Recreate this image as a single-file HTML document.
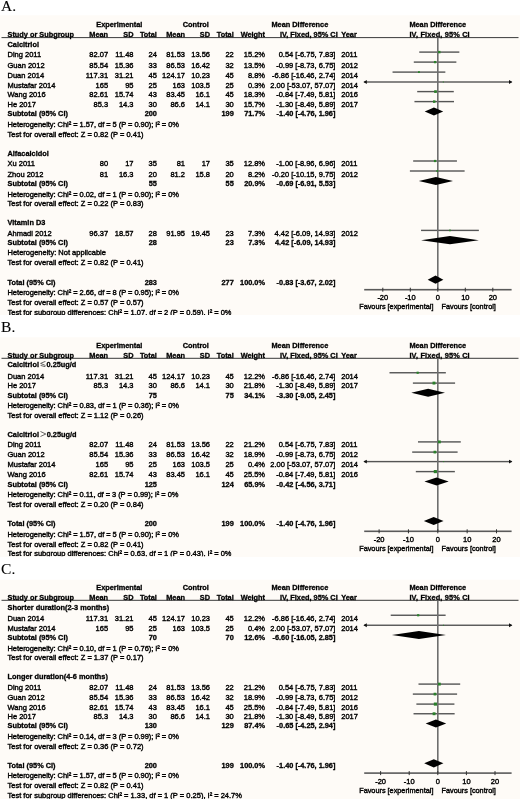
<!DOCTYPE html>
<html><head><meta charset="utf-8"><title>Forest plots</title>
<style>
html,body{margin:0;padding:0;background:#fff;}
body{width:520px;height:799px;position:relative;overflow:hidden;font-family:"Liberation Sans",sans-serif;color:#000;}
.t{position:absolute;white-space:nowrap;-webkit-text-stroke:0.38px #000;}
.b{font-weight:700;-webkit-text-stroke:0.3px #000;}
svg.g{position:absolute;left:0;top:0;}
.clipA{position:absolute;left:0;width:520px;overflow:hidden;}
#w{position:absolute;left:0;top:0;width:520px;height:799px;filter:blur(0.3px);}
</style></head><body><div id="w">
<svg class="g" width="520" height="799" viewBox="0 0 520 799"><rect x="0" y="15.3" width="520" height="299.7" fill="#fefbf7"/><rect x="0" y="337.3" width="520" height="219.7" fill="#fefbf7"/><rect x="0" y="579.7" width="520" height="219.3" fill="#fefbf7"/></svg>
<svg class="g" width="520" height="799" viewBox="0 0 520 799" shape-rendering="geometricPrecision"><rect x="1.5" y="37.1" width="517" height="1" fill="#3a3a3a"/><rect x="419.24" y="51.4" width="40.09" height="1.4" fill="#555555"/><rect x="413.79" y="61.4" width="42.57" height="1.4" fill="#555555"/><rect x="392.54" y="71.4" width="52.8" height="1.4" fill="#555555"/><rect x="364.2" y="81.3" width="147.4" height="1.4" fill="#555555"/><path d="M363.4 82 L366.8 80.1 L366.8 83.9 Z" fill="#111"/><path d="M512.4 82 L509 80.1 L509 83.9 Z" fill="#111"/><rect x="417.2" y="90.9" width="36.58" height="1.4" fill="#555555"/><rect x="414.45" y="100.9" width="39.55" height="1.4" fill="#555555"/><rect x="413.16" y="160.3" width="43.78" height="1.4" fill="#555555"/><rect x="409.89" y="170.3" width="54.73" height="1.4" fill="#555555"/><rect x="421.05" y="229.7" width="57.81" height="1.4" fill="#555555"/><rect x="437" y="37.6" width="1.6" height="252.1" fill="#6e6e6e"/><rect x="364.2" y="288.9" width="147.4" height="1.6" fill="#5a5a5a"/><rect x="382.3" y="287.7" width="1" height="4" fill="#333"/><rect x="409.8" y="287.7" width="1" height="4" fill="#333"/><rect x="437.3" y="287.7" width="1" height="4" fill="#333"/><rect x="464.8" y="287.7" width="1" height="4" fill="#333"/><rect x="492.3" y="287.7" width="1" height="4" fill="#333"/><rect x="1.5" y="357.8" width="517" height="1" fill="#3a3a3a"/><rect x="389.49" y="372.05" width="56.35" height="1.4" fill="#555555"/><rect x="412.88" y="382.4" width="42.21" height="1.4" fill="#555555"/><rect x="417.99" y="441.2" width="42.79" height="1.4" fill="#555555"/><rect x="412.18" y="451.4" width="45.43" height="1.4" fill="#555555"/><rect x="364.2" y="460.9" width="147.4" height="1.4" fill="#555555"/><path d="M363.4 461.6 L366.8 459.7 L366.8 463.5 Z" fill="#111"/><path d="M512.4 461.6 L509 459.7 L509 463.5 Z" fill="#111"/><rect x="415.82" y="470.9" width="39.04" height="1.4" fill="#555555"/><rect x="437" y="358.3" width="1.6" height="173" fill="#6e6e6e"/><rect x="364.2" y="530.5" width="147.4" height="1.6" fill="#5a5a5a"/><rect x="378.6" y="529.3" width="1" height="4" fill="#333"/><rect x="407.95" y="529.3" width="1" height="4" fill="#333"/><rect x="437.3" y="529.3" width="1" height="4" fill="#333"/><rect x="466.65" y="529.3" width="1" height="4" fill="#333"/><rect x="496" y="529.3" width="1" height="4" fill="#333"/><rect x="1.5" y="599.8" width="517" height="1" fill="#3a3a3a"/><rect x="390.72" y="614.55" width="54.91" height="1.4" fill="#555555"/><rect x="364.2" y="624.55" width="147.4" height="1.4" fill="#555555"/><path d="M363.4 625.25 L366.8 623.35 L366.8 627.15 Z" fill="#111"/><path d="M512.4 625.25 L509 623.35 L509 627.15 Z" fill="#111"/><rect x="418.5" y="683.4" width="41.7" height="1.4" fill="#555555"/><rect x="412.83" y="693.4" width="44.27" height="1.4" fill="#555555"/><rect x="416.38" y="703.4" width="38.04" height="1.4" fill="#555555"/><rect x="413.52" y="713.05" width="41.13" height="1.4" fill="#555555"/><rect x="437" y="600.3" width="1.6" height="172.8" fill="#6e6e6e"/><rect x="364.2" y="772.3" width="147.4" height="1.6" fill="#5a5a5a"/><rect x="380.1" y="771.1" width="1" height="4" fill="#333"/><rect x="408.7" y="771.1" width="1" height="4" fill="#333"/><rect x="437.3" y="771.1" width="1" height="4" fill="#333"/><rect x="465.9" y="771.1" width="1" height="4" fill="#333"/><rect x="494.5" y="771.1" width="1" height="4" fill="#333"/><path d="M424.71 111.5 L433.95 107.4 L443.19 111.5 L433.95 115.6 Z" fill="#000"/><path d="M418.8 181 L435.9 176.9 L453.01 181 L435.9 185.1 Z" fill="#000"/><path d="M421.05 240.2 L449.95 236.1 L478.86 240.2 L449.95 244.3 Z" fill="#000"/><path d="M427.71 279.7 L435.52 275.6 L443.36 279.7 L435.52 283.8 Z" fill="#000"/><rect x="438.08" y="50.89" width="2.42" height="2.42" fill="#2a802a"/><rect x="433.94" y="60.96" width="2.28" height="2.28" fill="#2a802a"/><rect x="418.02" y="71.18" width="1.84" height="1.84" fill="#2a802a"/><rect x="442.8" y="81.5" width="1" height="1" fill="#2a802a"/><rect x="434.16" y="90.27" width="2.65" height="2.65" fill="#2a802a"/><rect x="433" y="100.37" width="2.46" height="2.46" fill="#2a802a"/><rect x="433.94" y="159.89" width="2.22" height="2.22" fill="#2a802a"/><rect x="436.36" y="170.11" width="1.78" height="1.78" fill="#2a802a"/><rect x="449.12" y="229.56" width="1.68" height="1.68" fill="#2a802a"/><path d="M411.24 392.75 L428.11 388.65 L444.99 392.75 L428.11 396.85 Z" fill="#000"/><path d="M424.42 481.5 L436.57 477.4 L448.69 481.5 L436.57 485.6 Z" fill="#000"/><path d="M423.83 521 L433.69 516.9 L443.55 521 L433.69 525.1 Z" fill="#000"/><rect x="416.58" y="371.67" width="2.17" height="2.17" fill="#2a802a"/><rect x="432.54" y="381.65" width="2.89" height="2.89" fill="#2a802a"/><rect x="437.96" y="440.47" width="2.85" height="2.85" fill="#2a802a"/><rect x="433.55" y="450.75" width="2.7" height="2.7" fill="#2a802a"/><rect x="443.17" y="461.1" width="1" height="1" fill="#2a802a"/><rect x="433.77" y="470.03" width="3.13" height="3.13" fill="#2a802a"/><path d="M391.9 635 L418.92 630.9 L445.95 635 L418.92 639.1 Z" fill="#000"/><path d="M425.65 723.5 L435.94 719.4 L446.21 723.5 L435.94 727.6 Z" fill="#000"/><path d="M424.19 763.3 L433.8 759.2 L443.41 763.3 L433.8 767.4 Z" fill="#000"/><rect x="417.1" y="614.17" width="2.17" height="2.17" fill="#2a802a"/><rect x="443.02" y="624.75" width="1" height="1" fill="#2a802a"/><rect x="437.92" y="682.67" width="2.85" height="2.85" fill="#2a802a"/><rect x="433.62" y="692.75" width="2.7" height="2.7" fill="#2a802a"/><rect x="433.83" y="702.53" width="3.13" height="3.13" fill="#2a802a"/><rect x="432.63" y="712.3" width="2.89" height="2.89" fill="#2a802a"/></svg>
<div class="t" style="left:1.1px;top:-2.02px;font-family:'Liberation Serif',serif;font-size:15.5px;line-height:15.5px;-webkit-text-stroke:0.1px #000">A.</div><div class="t b" style="top:21.28px;font-size:7.35px;line-height:7.35px;left:96.25px;">Experimental</div><div class="t b" style="top:21.28px;font-size:7.35px;line-height:7.35px;left:182.75px;">Control</div><div class="t b" style="top:21.28px;font-size:7.35px;line-height:7.35px;left:271.5px;">Mean Difference</div><div class="t b" style="top:21.28px;font-size:7.35px;line-height:7.35px;left:409.4px;">Mean Difference</div><div class="t b" style="top:31.28px;font-size:7.35px;line-height:7.35px;left:7.5px;">Study or Subgroup</div><div class="t b" style="top:31.28px;font-size:7.35px;line-height:7.35px;right:411.9px;">Mean</div><div class="t b" style="top:31.28px;font-size:7.35px;line-height:7.35px;right:386.5px;">SD</div><div class="t b" style="top:31.28px;font-size:7.35px;line-height:7.35px;right:363.1px;">Total</div><div class="t b" style="top:31.28px;font-size:7.35px;line-height:7.35px;right:335px;">Mean</div><div class="t b" style="top:31.28px;font-size:7.35px;line-height:7.35px;right:310px;">SD</div><div class="t b" style="top:31.28px;font-size:7.35px;line-height:7.35px;right:286.25px;">Total</div><div class="t b" style="top:31.28px;font-size:7.35px;line-height:7.35px;right:255px;">Weight</div><div class="t b" style="top:31.28px;font-size:7.35px;line-height:7.35px;left:280px;">IV, Fixed, 95% CI</div><div class="t b" style="top:31.28px;font-size:7.35px;line-height:7.35px;left:341.25px;">Year</div><div class="t b" style="top:31.28px;font-size:7.35px;line-height:7.35px;left:409.4px;letter-spacing:0.16px;">IV, Fixed, 95% CI</div><div class="t b" style="top:40.58px;font-size:7.35px;line-height:7.35px;left:7.5px;">Calcitriol</div><div class="t" style="top:51.45px;font-size:7.5px;line-height:7.5px;left:7.5px;">Ding 2011</div><div class="t" style="top:51.45px;font-size:7.5px;line-height:7.5px;right:411.9px;">82.07</div><div class="t" style="top:51.45px;font-size:7.5px;line-height:7.5px;right:386.5px;">11.48</div><div class="t" style="top:51.45px;font-size:7.5px;line-height:7.5px;right:363.1px;">24</div><div class="t" style="top:51.45px;font-size:7.5px;line-height:7.5px;right:335px;">81.53</div><div class="t" style="top:51.45px;font-size:7.5px;line-height:7.5px;right:310px;">13.56</div><div class="t" style="top:51.45px;font-size:7.5px;line-height:7.5px;right:286.25px;">22</div><div class="t" style="top:51.45px;font-size:7.5px;line-height:7.5px;right:255px;">15.2%</div><div class="t" style="top:51.45px;font-size:7.5px;line-height:7.5px;right:184.6px;">0.54 [-6.75, 7.83]</div><div class="t" style="top:51.45px;font-size:7.5px;line-height:7.5px;left:341.25px;">2011</div><div class="t" style="top:61.75px;font-size:7.5px;line-height:7.5px;left:7.5px;">Guan 2012</div><div class="t" style="top:61.75px;font-size:7.5px;line-height:7.5px;right:411.9px;">85.54</div><div class="t" style="top:61.75px;font-size:7.5px;line-height:7.5px;right:386.5px;">15.36</div><div class="t" style="top:61.75px;font-size:7.5px;line-height:7.5px;right:363.1px;">33</div><div class="t" style="top:61.75px;font-size:7.5px;line-height:7.5px;right:335px;">86.53</div><div class="t" style="top:61.75px;font-size:7.5px;line-height:7.5px;right:310px;">16.42</div><div class="t" style="top:61.75px;font-size:7.5px;line-height:7.5px;right:286.25px;">32</div><div class="t" style="top:61.75px;font-size:7.5px;line-height:7.5px;right:255px;">13.5%</div><div class="t" style="top:61.75px;font-size:7.5px;line-height:7.5px;right:184.6px;">-0.99 [-8.73, 6.75]</div><div class="t" style="top:61.75px;font-size:7.5px;line-height:7.5px;left:341.25px;">2012</div><div class="t" style="top:71.75px;font-size:7.5px;line-height:7.5px;left:7.5px;">Duan 2014</div><div class="t" style="top:71.75px;font-size:7.5px;line-height:7.5px;right:411.9px;">117.31</div><div class="t" style="top:71.75px;font-size:7.5px;line-height:7.5px;right:386.5px;">31.21</div><div class="t" style="top:71.75px;font-size:7.5px;line-height:7.5px;right:363.1px;">45</div><div class="t" style="top:71.75px;font-size:7.5px;line-height:7.5px;right:335px;">124.17</div><div class="t" style="top:71.75px;font-size:7.5px;line-height:7.5px;right:310px;">10.23</div><div class="t" style="top:71.75px;font-size:7.5px;line-height:7.5px;right:286.25px;">45</div><div class="t" style="top:71.75px;font-size:7.5px;line-height:7.5px;right:255px;">8.8%</div><div class="t" style="top:71.75px;font-size:7.5px;line-height:7.5px;right:184.6px;">-6.86 [-16.46, 2.74]</div><div class="t" style="top:71.75px;font-size:7.5px;line-height:7.5px;left:341.25px;">2014</div><div class="t" style="top:81.75px;font-size:7.5px;line-height:7.5px;left:7.5px;">Mustafar 2014</div><div class="t" style="top:81.75px;font-size:7.5px;line-height:7.5px;right:411.9px;">165</div><div class="t" style="top:81.75px;font-size:7.5px;line-height:7.5px;right:386.5px;">95</div><div class="t" style="top:81.75px;font-size:7.5px;line-height:7.5px;right:363.1px;">25</div><div class="t" style="top:81.75px;font-size:7.5px;line-height:7.5px;right:335px;">163</div><div class="t" style="top:81.75px;font-size:7.5px;line-height:7.5px;right:310px;">103.5</div><div class="t" style="top:81.75px;font-size:7.5px;line-height:7.5px;right:286.25px;">25</div><div class="t" style="top:81.75px;font-size:7.5px;line-height:7.5px;right:255px;">0.3%</div><div class="t" style="top:81.75px;font-size:7.5px;line-height:7.5px;right:184.6px;">2.00 [-53.07, 57.07]</div><div class="t" style="top:81.75px;font-size:7.5px;line-height:7.5px;left:341.25px;">2014</div><div class="t" style="top:91.45px;font-size:7.5px;line-height:7.5px;left:7.5px;">Wang 2016</div><div class="t" style="top:91.45px;font-size:7.5px;line-height:7.5px;right:411.9px;">82.61</div><div class="t" style="top:91.45px;font-size:7.5px;line-height:7.5px;right:386.5px;">15.74</div><div class="t" style="top:91.45px;font-size:7.5px;line-height:7.5px;right:363.1px;">43</div><div class="t" style="top:91.45px;font-size:7.5px;line-height:7.5px;right:335px;">83.45</div><div class="t" style="top:91.45px;font-size:7.5px;line-height:7.5px;right:310px;">16.1</div><div class="t" style="top:91.45px;font-size:7.5px;line-height:7.5px;right:286.25px;">45</div><div class="t" style="top:91.45px;font-size:7.5px;line-height:7.5px;right:255px;">18.3%</div><div class="t" style="top:91.45px;font-size:7.5px;line-height:7.5px;right:184.6px;">-0.84 [-7.49, 5.81]</div><div class="t" style="top:91.45px;font-size:7.5px;line-height:7.5px;left:341.25px;">2016</div><div class="t" style="top:101.15px;font-size:7.5px;line-height:7.5px;left:7.5px;">He 2017</div><div class="t" style="top:101.15px;font-size:7.5px;line-height:7.5px;right:411.9px;">85.3</div><div class="t" style="top:101.15px;font-size:7.5px;line-height:7.5px;right:386.5px;">14.3</div><div class="t" style="top:101.15px;font-size:7.5px;line-height:7.5px;right:363.1px;">30</div><div class="t" style="top:101.15px;font-size:7.5px;line-height:7.5px;right:335px;">86.6</div><div class="t" style="top:101.15px;font-size:7.5px;line-height:7.5px;right:310px;">14.1</div><div class="t" style="top:101.15px;font-size:7.5px;line-height:7.5px;right:286.25px;">30</div><div class="t" style="top:101.15px;font-size:7.5px;line-height:7.5px;right:255px;">15.7%</div><div class="t" style="top:101.15px;font-size:7.5px;line-height:7.5px;right:184.6px;">-1.30 [-8.49, 5.89]</div><div class="t" style="top:101.15px;font-size:7.5px;line-height:7.5px;left:341.25px;">2017</div><div class="t b" style="top:110.38px;font-size:7.35px;line-height:7.35px;left:7.5px;">Subtotal (95% CI)</div><div class="t b" style="top:110.38px;font-size:7.35px;line-height:7.35px;right:363.1px;">200</div><div class="t b" style="top:110.38px;font-size:7.35px;line-height:7.35px;right:286.25px;">199</div><div class="t b" style="top:110.38px;font-size:7.35px;line-height:7.35px;right:255px;">71.7%</div><div class="t b" style="top:110.38px;font-size:7.35px;line-height:7.35px;right:184.6px;">-1.40 [-4.76, 1.96]</div><div class="t" style="top:120.5px;font-size:7.5px;line-height:7.5px;left:7.5px;letter-spacing:-0.05px;">Heterogeneity: Chi² = 1.57, df = 5 (P = 0.90); I² = 0%</div><div class="t" style="top:130.5px;font-size:7.5px;line-height:7.5px;left:7.5px;">Test for overall effect: Z = 0.82 (P = 0.41)</div><div class="t b" style="top:149.63px;font-size:7.35px;line-height:7.35px;left:7.5px;">Alfacalcidol</div><div class="t" style="top:160.25px;font-size:7.5px;line-height:7.5px;left:7.5px;">Xu 2011</div><div class="t" style="top:160.25px;font-size:7.5px;line-height:7.5px;right:411.9px;">80</div><div class="t" style="top:160.25px;font-size:7.5px;line-height:7.5px;right:386.5px;">17</div><div class="t" style="top:160.25px;font-size:7.5px;line-height:7.5px;right:363.1px;">35</div><div class="t" style="top:160.25px;font-size:7.5px;line-height:7.5px;right:335px;">81</div><div class="t" style="top:160.25px;font-size:7.5px;line-height:7.5px;right:310px;">17</div><div class="t" style="top:160.25px;font-size:7.5px;line-height:7.5px;right:286.25px;">35</div><div class="t" style="top:160.25px;font-size:7.5px;line-height:7.5px;right:255px;">12.8%</div><div class="t" style="top:160.25px;font-size:7.5px;line-height:7.5px;right:184.6px;">-1.00 [-8.96, 6.96]</div><div class="t" style="top:160.25px;font-size:7.5px;line-height:7.5px;left:341.25px;">2011</div><div class="t" style="top:170.5px;font-size:7.5px;line-height:7.5px;left:7.5px;">Zhou 2012</div><div class="t" style="top:170.5px;font-size:7.5px;line-height:7.5px;right:411.9px;">81</div><div class="t" style="top:170.5px;font-size:7.5px;line-height:7.5px;right:386.5px;">16.3</div><div class="t" style="top:170.5px;font-size:7.5px;line-height:7.5px;right:363.1px;">20</div><div class="t" style="top:170.5px;font-size:7.5px;line-height:7.5px;right:335px;">81.2</div><div class="t" style="top:170.5px;font-size:7.5px;line-height:7.5px;right:310px;">15.8</div><div class="t" style="top:170.5px;font-size:7.5px;line-height:7.5px;right:286.25px;">20</div><div class="t" style="top:170.5px;font-size:7.5px;line-height:7.5px;right:255px;">8.2%</div><div class="t" style="top:170.5px;font-size:7.5px;line-height:7.5px;right:184.6px;">-0.20 [-10.15, 9.75]</div><div class="t" style="top:170.5px;font-size:7.5px;line-height:7.5px;left:341.25px;">2012</div><div class="t b" style="top:180.38px;font-size:7.35px;line-height:7.35px;left:7.5px;">Subtotal (95% CI)</div><div class="t b" style="top:180.38px;font-size:7.35px;line-height:7.35px;right:363.1px;">55</div><div class="t b" style="top:180.38px;font-size:7.35px;line-height:7.35px;right:286.25px;">55</div><div class="t b" style="top:180.38px;font-size:7.35px;line-height:7.35px;right:255px;">20.9%</div><div class="t b" style="top:180.38px;font-size:7.35px;line-height:7.35px;right:184.6px;">-0.69 [-6.91, 5.53]</div><div class="t" style="top:190.5px;font-size:7.5px;line-height:7.5px;left:7.5px;letter-spacing:-0.05px;">Heterogeneity: Chi² = 0.02, df = 1 (P = 0.90); I² = 0%</div><div class="t" style="top:199.85px;font-size:7.5px;line-height:7.5px;left:7.5px;">Test for overall effect: Z = 0.22 (P = 0.83)</div><div class="t b" style="top:218.78px;font-size:7.35px;line-height:7.35px;left:7.5px;">Vitamin D3</div><div class="t" style="top:229.85px;font-size:7.5px;line-height:7.5px;left:7.5px;">Ahmadi 2012</div><div class="t" style="top:229.85px;font-size:7.5px;line-height:7.5px;right:411.9px;">96.37</div><div class="t" style="top:229.85px;font-size:7.5px;line-height:7.5px;right:386.5px;">18.57</div><div class="t" style="top:229.85px;font-size:7.5px;line-height:7.5px;right:363.1px;">28</div><div class="t" style="top:229.85px;font-size:7.5px;line-height:7.5px;right:335px;">91.95</div><div class="t" style="top:229.85px;font-size:7.5px;line-height:7.5px;right:310px;">19.45</div><div class="t" style="top:229.85px;font-size:7.5px;line-height:7.5px;right:286.25px;">23</div><div class="t" style="top:229.85px;font-size:7.5px;line-height:7.5px;right:255px;">7.3%</div><div class="t" style="top:229.85px;font-size:7.5px;line-height:7.5px;right:184.6px;">4.42 [-6.09, 14.93]</div><div class="t" style="top:229.85px;font-size:7.5px;line-height:7.5px;left:341.25px;">2012</div><div class="t b" style="top:239.13px;font-size:7.35px;line-height:7.35px;left:7.5px;">Subtotal (95% CI)</div><div class="t b" style="top:239.13px;font-size:7.35px;line-height:7.35px;right:363.1px;">28</div><div class="t b" style="top:239.13px;font-size:7.35px;line-height:7.35px;right:286.25px;">23</div><div class="t b" style="top:239.13px;font-size:7.35px;line-height:7.35px;right:255px;">7.3%</div><div class="t b" style="top:239.13px;font-size:7.35px;line-height:7.35px;right:184.6px;">4.42 [-6.09, 14.93]</div><div class="t" style="top:249.25px;font-size:7.5px;line-height:7.5px;left:7.5px;">Heterogeneity: Not applicable</div><div class="t" style="top:259.25px;font-size:7.5px;line-height:7.5px;left:7.5px;">Test for overall effect: Z = 0.82 (P = 0.41)</div><div class="t b" style="top:278.78px;font-size:7.35px;line-height:7.35px;left:7.5px;">Total (95% CI)</div><div class="t b" style="top:278.78px;font-size:7.35px;line-height:7.35px;right:363.1px;">283</div><div class="t b" style="top:278.78px;font-size:7.35px;line-height:7.35px;right:286.25px;">277</div><div class="t b" style="top:278.78px;font-size:7.35px;line-height:7.35px;right:255px;">100.0%</div><div class="t b" style="top:278.78px;font-size:7.35px;line-height:7.35px;right:184.6px;">-0.83 [-3.67, 2.02]</div><div class="t" style="top:289.25px;font-size:7.5px;line-height:7.5px;left:7.5px;letter-spacing:-0.05px;">Heterogeneity: Chi² = 2.66, df = 8 (P = 0.95); I² = 0%</div><div class="t" style="top:299px;font-size:7.5px;line-height:7.5px;left:7.5px;">Test for overall effect: Z = 0.57 (P = 0.57)</div><div class="t" style="top:308.65px;font-size:7.5px;line-height:7.5px;height:7.5px;clip-path:inset(0 0 1.15px 0);left:7.5px;">Test for subgroup differences: Chi² = 1.07, df = 2 (P = 0.59), I² = 0%</div><div class="t" style="top:294.15px;font-size:7.5px;line-height:7.5px;left:332.8px;width:100px;text-align:center;">-20</div><div class="t" style="top:294.15px;font-size:7.5px;line-height:7.5px;left:360.3px;width:100px;text-align:center;">-10</div><div class="t" style="top:294.15px;font-size:7.5px;line-height:7.5px;left:387.8px;width:100px;text-align:center;">0</div><div class="t" style="top:294.15px;font-size:7.5px;line-height:7.5px;left:415.3px;width:100px;text-align:center;">10</div><div class="t" style="top:294.15px;font-size:7.5px;line-height:7.5px;left:442.8px;width:100px;text-align:center;">20</div><div class="t" style="top:303.17px;font-size:7.3px;line-height:7.3px;right:86.6px;">Favours [experimental]</div><div class="t" style="top:303.17px;font-size:7.3px;line-height:7.3px;left:441.5px;">Favours [control]</div><div class="t" style="left:1.1px;top:319.12px;font-family:'Liberation Serif',serif;font-size:15.5px;line-height:15.5px;-webkit-text-stroke:0.1px #000">B.</div><div class="t b" style="top:342.28px;font-size:7.35px;line-height:7.35px;left:96.25px;">Experimental</div><div class="t b" style="top:342.28px;font-size:7.35px;line-height:7.35px;left:182.75px;">Control</div><div class="t b" style="top:342.28px;font-size:7.35px;line-height:7.35px;left:271.5px;">Mean Difference</div><div class="t b" style="top:342.28px;font-size:7.35px;line-height:7.35px;left:409.4px;">Mean Difference</div><div class="t b" style="top:352.28px;font-size:7.35px;line-height:7.35px;left:7.5px;">Study or Subgroup</div><div class="t b" style="top:352.28px;font-size:7.35px;line-height:7.35px;right:411.9px;">Mean</div><div class="t b" style="top:352.28px;font-size:7.35px;line-height:7.35px;right:386.5px;">SD</div><div class="t b" style="top:352.28px;font-size:7.35px;line-height:7.35px;right:363.1px;">Total</div><div class="t b" style="top:352.28px;font-size:7.35px;line-height:7.35px;right:335px;">Mean</div><div class="t b" style="top:352.28px;font-size:7.35px;line-height:7.35px;right:310px;">SD</div><div class="t b" style="top:352.28px;font-size:7.35px;line-height:7.35px;right:286.25px;">Total</div><div class="t b" style="top:352.28px;font-size:7.35px;line-height:7.35px;right:255px;">Weight</div><div class="t b" style="top:352.28px;font-size:7.35px;line-height:7.35px;left:280px;">IV, Fixed, 95% CI</div><div class="t b" style="top:352.28px;font-size:7.35px;line-height:7.35px;left:341.25px;">Year</div><div class="t b" style="top:352.28px;font-size:7.35px;line-height:7.35px;left:409.4px;letter-spacing:0.16px;">IV, Fixed, 95% CI</div><div class="t b" style="top:361.28px;font-size:7.35px;line-height:7.35px;left:7.5px;">Calcitriol<svg width="6" height="6" viewBox="0 0 6 6" style="display:inline-block;vertical-align:0;margin:0 0.6px 0 1px"><path d="M5.5 0.3 L0.6 2.4 L5.5 4.5 M0.6 4.4 L5.5 5.8" stroke="#333" stroke-width="0.75" fill="none"/></svg>0.25ug/d</div><div class="t" style="top:372.75px;font-size:7.5px;line-height:7.5px;left:7.5px;">Duan 2014</div><div class="t" style="top:372.75px;font-size:7.5px;line-height:7.5px;right:411.9px;">117.31</div><div class="t" style="top:372.75px;font-size:7.5px;line-height:7.5px;right:386.5px;">31.21</div><div class="t" style="top:372.75px;font-size:7.5px;line-height:7.5px;right:363.1px;">45</div><div class="t" style="top:372.75px;font-size:7.5px;line-height:7.5px;right:335px;">124.17</div><div class="t" style="top:372.75px;font-size:7.5px;line-height:7.5px;right:310px;">10.23</div><div class="t" style="top:372.75px;font-size:7.5px;line-height:7.5px;right:286.25px;">45</div><div class="t" style="top:372.75px;font-size:7.5px;line-height:7.5px;right:255px;">12.2%</div><div class="t" style="top:372.75px;font-size:7.5px;line-height:7.5px;right:184.6px;">-6.86 [-16.46, 2.74]</div><div class="t" style="top:372.75px;font-size:7.5px;line-height:7.5px;left:341.25px;">2014</div><div class="t" style="top:382.35px;font-size:7.5px;line-height:7.5px;left:7.5px;">He 2017</div><div class="t" style="top:382.35px;font-size:7.5px;line-height:7.5px;right:411.9px;">85.3</div><div class="t" style="top:382.35px;font-size:7.5px;line-height:7.5px;right:386.5px;">14.3</div><div class="t" style="top:382.35px;font-size:7.5px;line-height:7.5px;right:363.1px;">30</div><div class="t" style="top:382.35px;font-size:7.5px;line-height:7.5px;right:335px;">86.6</div><div class="t" style="top:382.35px;font-size:7.5px;line-height:7.5px;right:310px;">14.1</div><div class="t" style="top:382.35px;font-size:7.5px;line-height:7.5px;right:286.25px;">30</div><div class="t" style="top:382.35px;font-size:7.5px;line-height:7.5px;right:255px;">21.8%</div><div class="t" style="top:382.35px;font-size:7.5px;line-height:7.5px;right:184.6px;">-1.30 [-8.49, 5.89]</div><div class="t" style="top:382.35px;font-size:7.5px;line-height:7.5px;left:341.25px;">2017</div><div class="t b" style="top:391.63px;font-size:7.35px;line-height:7.35px;left:7.5px;">Subtotal (95% CI)</div><div class="t b" style="top:391.63px;font-size:7.35px;line-height:7.35px;right:363.1px;">75</div><div class="t b" style="top:391.63px;font-size:7.35px;line-height:7.35px;right:286.25px;">75</div><div class="t b" style="top:391.63px;font-size:7.35px;line-height:7.35px;right:255px;">34.1%</div><div class="t b" style="top:391.63px;font-size:7.35px;line-height:7.35px;right:184.6px;">-3.30 [-9.05, 2.45]</div><div class="t" style="top:401.75px;font-size:7.5px;line-height:7.5px;left:7.5px;letter-spacing:-0.05px;">Heterogeneity: Chi² = 0.83, df = 1 (P = 0.36); I² = 0%</div><div class="t" style="top:411.75px;font-size:7.5px;line-height:7.5px;left:7.5px;">Test for overall effect: Z = 1.12 (P = 0.26)</div><div class="t b" style="top:430.63px;font-size:7.35px;line-height:7.35px;left:7.5px;">Calcitriol<svg width="6.4" height="6" viewBox="0 0 6.4 6" style="display:inline-block;vertical-align:0;margin:0 0.4px 0 1px"><path d="M0.5 0.5 L5.8 3 L0.5 5.5" stroke="#333" stroke-width="0.75" fill="none"/></svg>0.25ug/d</div><div class="t" style="top:441.15px;font-size:7.5px;line-height:7.5px;left:7.5px;">Ding 2011</div><div class="t" style="top:441.15px;font-size:7.5px;line-height:7.5px;right:411.9px;">82.07</div><div class="t" style="top:441.15px;font-size:7.5px;line-height:7.5px;right:386.5px;">11.48</div><div class="t" style="top:441.15px;font-size:7.5px;line-height:7.5px;right:363.1px;">24</div><div class="t" style="top:441.15px;font-size:7.5px;line-height:7.5px;right:335px;">81.53</div><div class="t" style="top:441.15px;font-size:7.5px;line-height:7.5px;right:310px;">13.56</div><div class="t" style="top:441.15px;font-size:7.5px;line-height:7.5px;right:286.25px;">22</div><div class="t" style="top:441.15px;font-size:7.5px;line-height:7.5px;right:255px;">21.2%</div><div class="t" style="top:441.15px;font-size:7.5px;line-height:7.5px;right:184.6px;">0.54 [-6.75, 7.83]</div><div class="t" style="top:441.15px;font-size:7.5px;line-height:7.5px;left:341.25px;">2011</div><div class="t" style="top:451.35px;font-size:7.5px;line-height:7.5px;left:7.5px;">Guan 2012</div><div class="t" style="top:451.35px;font-size:7.5px;line-height:7.5px;right:411.9px;">85.54</div><div class="t" style="top:451.35px;font-size:7.5px;line-height:7.5px;right:386.5px;">15.36</div><div class="t" style="top:451.35px;font-size:7.5px;line-height:7.5px;right:363.1px;">33</div><div class="t" style="top:451.35px;font-size:7.5px;line-height:7.5px;right:335px;">86.53</div><div class="t" style="top:451.35px;font-size:7.5px;line-height:7.5px;right:310px;">16.42</div><div class="t" style="top:451.35px;font-size:7.5px;line-height:7.5px;right:286.25px;">32</div><div class="t" style="top:451.35px;font-size:7.5px;line-height:7.5px;right:255px;">18.9%</div><div class="t" style="top:451.35px;font-size:7.5px;line-height:7.5px;right:184.6px;">-0.99 [-8.73, 6.75]</div><div class="t" style="top:451.35px;font-size:7.5px;line-height:7.5px;left:341.25px;">2012</div><div class="t" style="top:461.15px;font-size:7.5px;line-height:7.5px;left:7.5px;">Mustafar 2014</div><div class="t" style="top:461.15px;font-size:7.5px;line-height:7.5px;right:411.9px;">165</div><div class="t" style="top:461.15px;font-size:7.5px;line-height:7.5px;right:386.5px;">95</div><div class="t" style="top:461.15px;font-size:7.5px;line-height:7.5px;right:363.1px;">25</div><div class="t" style="top:461.15px;font-size:7.5px;line-height:7.5px;right:335px;">163</div><div class="t" style="top:461.15px;font-size:7.5px;line-height:7.5px;right:310px;">103.5</div><div class="t" style="top:461.15px;font-size:7.5px;line-height:7.5px;right:286.25px;">25</div><div class="t" style="top:461.15px;font-size:7.5px;line-height:7.5px;right:255px;">0.4%</div><div class="t" style="top:461.15px;font-size:7.5px;line-height:7.5px;right:184.6px;">2.00 [-53.07, 57.07]</div><div class="t" style="top:461.15px;font-size:7.5px;line-height:7.5px;left:341.25px;">2014</div><div class="t" style="top:470.85px;font-size:7.5px;line-height:7.5px;left:7.5px;">Wang 2016</div><div class="t" style="top:470.85px;font-size:7.5px;line-height:7.5px;right:411.9px;">82.61</div><div class="t" style="top:470.85px;font-size:7.5px;line-height:7.5px;right:386.5px;">15.74</div><div class="t" style="top:470.85px;font-size:7.5px;line-height:7.5px;right:363.1px;">43</div><div class="t" style="top:470.85px;font-size:7.5px;line-height:7.5px;right:335px;">83.45</div><div class="t" style="top:470.85px;font-size:7.5px;line-height:7.5px;right:310px;">16.1</div><div class="t" style="top:470.85px;font-size:7.5px;line-height:7.5px;right:286.25px;">45</div><div class="t" style="top:470.85px;font-size:7.5px;line-height:7.5px;right:255px;">25.5%</div><div class="t" style="top:470.85px;font-size:7.5px;line-height:7.5px;right:184.6px;">-0.84 [-7.49, 5.81]</div><div class="t" style="top:470.85px;font-size:7.5px;line-height:7.5px;left:341.25px;">2016</div><div class="t b" style="top:480.63px;font-size:7.35px;line-height:7.35px;left:7.5px;">Subtotal (95% CI)</div><div class="t b" style="top:480.63px;font-size:7.35px;line-height:7.35px;right:363.1px;">125</div><div class="t b" style="top:480.63px;font-size:7.35px;line-height:7.35px;right:286.25px;">124</div><div class="t b" style="top:480.63px;font-size:7.35px;line-height:7.35px;right:255px;">65.9%</div><div class="t b" style="top:480.63px;font-size:7.35px;line-height:7.35px;right:184.6px;">-0.42 [-4.56, 3.71]</div><div class="t" style="top:491.15px;font-size:7.5px;line-height:7.5px;left:7.5px;letter-spacing:-0.05px;">Heterogeneity: Chi² = 0.11, df = 3 (P = 0.99); I² = 0%</div><div class="t" style="top:500.75px;font-size:7.5px;line-height:7.5px;left:7.5px;">Test for overall effect: Z = 0.20 (P = 0.84)</div><div class="t b" style="top:519.98px;font-size:7.35px;line-height:7.35px;left:7.5px;">Total (95% CI)</div><div class="t b" style="top:519.98px;font-size:7.35px;line-height:7.35px;right:363.1px;">200</div><div class="t b" style="top:519.98px;font-size:7.35px;line-height:7.35px;right:286.25px;">199</div><div class="t b" style="top:519.98px;font-size:7.35px;line-height:7.35px;right:255px;">100.0%</div><div class="t b" style="top:519.98px;font-size:7.35px;line-height:7.35px;right:184.6px;">-1.40 [-4.76, 1.96]</div><div class="t" style="top:530.5px;font-size:7.5px;line-height:7.5px;left:7.5px;letter-spacing:-0.05px;">Heterogeneity: Chi² = 1.57, df = 5 (P = 0.90); I² = 0%</div><div class="t" style="top:540.5px;font-size:7.5px;line-height:7.5px;left:7.5px;">Test for overall effect: Z = 0.82 (P = 0.41)</div><div class="t" style="top:549.85px;font-size:7.5px;line-height:7.5px;height:7.5px;clip-path:inset(0 0 1.15px 0);left:7.5px;">Test for subgroup differences: Chi² = 0.63, df = 1 (P = 0.43), I² = 0%</div><div class="t" style="top:535.75px;font-size:7.5px;line-height:7.5px;left:329.1px;width:100px;text-align:center;">-20</div><div class="t" style="top:535.75px;font-size:7.5px;line-height:7.5px;left:358.45px;width:100px;text-align:center;">-10</div><div class="t" style="top:535.75px;font-size:7.5px;line-height:7.5px;left:387.8px;width:100px;text-align:center;">0</div><div class="t" style="top:535.75px;font-size:7.5px;line-height:7.5px;left:417.15px;width:100px;text-align:center;">10</div><div class="t" style="top:535.75px;font-size:7.5px;line-height:7.5px;left:446.5px;width:100px;text-align:center;">20</div><div class="t" style="top:544.77px;font-size:7.3px;line-height:7.3px;right:86.6px;">Favours [experimental]</div><div class="t" style="top:544.77px;font-size:7.3px;line-height:7.3px;left:441.5px;">Favours [control]</div><div class="t" style="left:1.1px;top:561.02px;font-family:'Liberation Serif',serif;font-size:15.5px;line-height:15.5px;-webkit-text-stroke:0.1px #000">C.</div><div class="t b" style="top:584.13px;font-size:7.35px;line-height:7.35px;left:96.25px;">Experimental</div><div class="t b" style="top:584.13px;font-size:7.35px;line-height:7.35px;left:182.75px;">Control</div><div class="t b" style="top:584.13px;font-size:7.35px;line-height:7.35px;left:271.5px;">Mean Difference</div><div class="t b" style="top:584.13px;font-size:7.35px;line-height:7.35px;left:409.4px;">Mean Difference</div><div class="t b" style="top:594.28px;font-size:7.35px;line-height:7.35px;left:7.5px;">Study or Subgroup</div><div class="t b" style="top:594.28px;font-size:7.35px;line-height:7.35px;right:411.9px;">Mean</div><div class="t b" style="top:594.28px;font-size:7.35px;line-height:7.35px;right:386.5px;">SD</div><div class="t b" style="top:594.28px;font-size:7.35px;line-height:7.35px;right:363.1px;">Total</div><div class="t b" style="top:594.28px;font-size:7.35px;line-height:7.35px;right:335px;">Mean</div><div class="t b" style="top:594.28px;font-size:7.35px;line-height:7.35px;right:310px;">SD</div><div class="t b" style="top:594.28px;font-size:7.35px;line-height:7.35px;right:286.25px;">Total</div><div class="t b" style="top:594.28px;font-size:7.35px;line-height:7.35px;right:255px;">Weight</div><div class="t b" style="top:594.28px;font-size:7.35px;line-height:7.35px;left:280px;">IV, Fixed, 95% CI</div><div class="t b" style="top:594.28px;font-size:7.35px;line-height:7.35px;left:341.25px;">Year</div><div class="t b" style="top:594.28px;font-size:7.35px;line-height:7.35px;left:409.4px;letter-spacing:0.16px;">IV, Fixed, 95% CI</div><div class="t b" style="top:604.28px;font-size:7.35px;line-height:7.35px;left:7.5px;">Shorter duration(2-3 months)</div><div class="t" style="top:614.75px;font-size:7.5px;line-height:7.5px;left:7.5px;">Duan 2014</div><div class="t" style="top:614.75px;font-size:7.5px;line-height:7.5px;right:411.9px;">117.31</div><div class="t" style="top:614.75px;font-size:7.5px;line-height:7.5px;right:386.5px;">31.21</div><div class="t" style="top:614.75px;font-size:7.5px;line-height:7.5px;right:363.1px;">45</div><div class="t" style="top:614.75px;font-size:7.5px;line-height:7.5px;right:335px;">124.17</div><div class="t" style="top:614.75px;font-size:7.5px;line-height:7.5px;right:310px;">10.23</div><div class="t" style="top:614.75px;font-size:7.5px;line-height:7.5px;right:286.25px;">45</div><div class="t" style="top:614.75px;font-size:7.5px;line-height:7.5px;right:255px;">12.2%</div><div class="t" style="top:614.75px;font-size:7.5px;line-height:7.5px;right:184.6px;">-6.86 [-16.46, 2.74]</div><div class="t" style="top:614.75px;font-size:7.5px;line-height:7.5px;left:341.25px;">2014</div><div class="t" style="top:624.5px;font-size:7.5px;line-height:7.5px;left:7.5px;">Mustafar 2014</div><div class="t" style="top:624.5px;font-size:7.5px;line-height:7.5px;right:411.9px;">165</div><div class="t" style="top:624.5px;font-size:7.5px;line-height:7.5px;right:386.5px;">95</div><div class="t" style="top:624.5px;font-size:7.5px;line-height:7.5px;right:363.1px;">25</div><div class="t" style="top:624.5px;font-size:7.5px;line-height:7.5px;right:335px;">163</div><div class="t" style="top:624.5px;font-size:7.5px;line-height:7.5px;right:310px;">103.5</div><div class="t" style="top:624.5px;font-size:7.5px;line-height:7.5px;right:286.25px;">25</div><div class="t" style="top:624.5px;font-size:7.5px;line-height:7.5px;right:255px;">0.4%</div><div class="t" style="top:624.5px;font-size:7.5px;line-height:7.5px;right:184.6px;">2.00 [-53.07, 57.07]</div><div class="t" style="top:624.5px;font-size:7.5px;line-height:7.5px;left:341.25px;">2014</div><div class="t b" style="top:633.98px;font-size:7.35px;line-height:7.35px;left:7.5px;">Subtotal (95% CI)</div><div class="t b" style="top:633.98px;font-size:7.35px;line-height:7.35px;right:363.1px;">70</div><div class="t b" style="top:633.98px;font-size:7.35px;line-height:7.35px;right:286.25px;">70</div><div class="t b" style="top:633.98px;font-size:7.35px;line-height:7.35px;right:255px;">12.6%</div><div class="t b" style="top:633.98px;font-size:7.35px;line-height:7.35px;right:184.6px;">-6.60 [-16.05, 2.85]</div><div class="t" style="top:644.5px;font-size:7.5px;line-height:7.5px;left:7.5px;letter-spacing:-0.05px;">Heterogeneity: Chi² = 0.10, df = 1 (P = 0.76); I² = 0%</div><div class="t" style="top:654.15px;font-size:7.5px;line-height:7.5px;left:7.5px;">Test for overall effect: Z = 1.37 (P = 0.17)</div><div class="t b" style="top:673.38px;font-size:7.35px;line-height:7.35px;left:7.5px;">Longer duration(4-6 months)</div><div class="t" style="top:683.5px;font-size:7.5px;line-height:7.5px;left:7.5px;">Ding 2011</div><div class="t" style="top:683.5px;font-size:7.5px;line-height:7.5px;right:411.9px;">82.07</div><div class="t" style="top:683.5px;font-size:7.5px;line-height:7.5px;right:386.5px;">11.48</div><div class="t" style="top:683.5px;font-size:7.5px;line-height:7.5px;right:363.1px;">24</div><div class="t" style="top:683.5px;font-size:7.5px;line-height:7.5px;right:335px;">81.53</div><div class="t" style="top:683.5px;font-size:7.5px;line-height:7.5px;right:310px;">13.56</div><div class="t" style="top:683.5px;font-size:7.5px;line-height:7.5px;right:286.25px;">22</div><div class="t" style="top:683.5px;font-size:7.5px;line-height:7.5px;right:255px;">21.2%</div><div class="t" style="top:683.5px;font-size:7.5px;line-height:7.5px;right:184.6px;">0.54 [-6.75, 7.83]</div><div class="t" style="top:683.5px;font-size:7.5px;line-height:7.5px;left:341.25px;">2011</div><div class="t" style="top:693.65px;font-size:7.5px;line-height:7.5px;left:7.5px;">Guan 2012</div><div class="t" style="top:693.65px;font-size:7.5px;line-height:7.5px;right:411.9px;">85.54</div><div class="t" style="top:693.65px;font-size:7.5px;line-height:7.5px;right:386.5px;">15.36</div><div class="t" style="top:693.65px;font-size:7.5px;line-height:7.5px;right:363.1px;">33</div><div class="t" style="top:693.65px;font-size:7.5px;line-height:7.5px;right:335px;">86.53</div><div class="t" style="top:693.65px;font-size:7.5px;line-height:7.5px;right:310px;">16.42</div><div class="t" style="top:693.65px;font-size:7.5px;line-height:7.5px;right:286.25px;">32</div><div class="t" style="top:693.65px;font-size:7.5px;line-height:7.5px;right:255px;">18.9%</div><div class="t" style="top:693.65px;font-size:7.5px;line-height:7.5px;right:184.6px;">-0.99 [-8.73, 6.75]</div><div class="t" style="top:693.65px;font-size:7.5px;line-height:7.5px;left:341.25px;">2012</div><div class="t" style="top:703.65px;font-size:7.5px;line-height:7.5px;left:7.5px;">Wang 2016</div><div class="t" style="top:703.65px;font-size:7.5px;line-height:7.5px;right:411.9px;">82.61</div><div class="t" style="top:703.65px;font-size:7.5px;line-height:7.5px;right:386.5px;">15.74</div><div class="t" style="top:703.65px;font-size:7.5px;line-height:7.5px;right:363.1px;">43</div><div class="t" style="top:703.65px;font-size:7.5px;line-height:7.5px;right:335px;">83.45</div><div class="t" style="top:703.65px;font-size:7.5px;line-height:7.5px;right:310px;">16.1</div><div class="t" style="top:703.65px;font-size:7.5px;line-height:7.5px;right:286.25px;">45</div><div class="t" style="top:703.65px;font-size:7.5px;line-height:7.5px;right:255px;">25.5%</div><div class="t" style="top:703.65px;font-size:7.5px;line-height:7.5px;right:184.6px;">-0.84 [-7.49, 5.81]</div><div class="t" style="top:703.65px;font-size:7.5px;line-height:7.5px;left:341.25px;">2016</div><div class="t" style="top:713px;font-size:7.5px;line-height:7.5px;left:7.5px;">He 2017</div><div class="t" style="top:713px;font-size:7.5px;line-height:7.5px;right:411.9px;">85.3</div><div class="t" style="top:713px;font-size:7.5px;line-height:7.5px;right:386.5px;">14.3</div><div class="t" style="top:713px;font-size:7.5px;line-height:7.5px;right:363.1px;">30</div><div class="t" style="top:713px;font-size:7.5px;line-height:7.5px;right:335px;">86.6</div><div class="t" style="top:713px;font-size:7.5px;line-height:7.5px;right:310px;">14.1</div><div class="t" style="top:713px;font-size:7.5px;line-height:7.5px;right:286.25px;">30</div><div class="t" style="top:713px;font-size:7.5px;line-height:7.5px;right:255px;">21.8%</div><div class="t" style="top:713px;font-size:7.5px;line-height:7.5px;right:184.6px;">-1.30 [-8.49, 5.89]</div><div class="t" style="top:713px;font-size:7.5px;line-height:7.5px;left:341.25px;">2017</div><div class="t b" style="top:722.48px;font-size:7.35px;line-height:7.35px;left:7.5px;">Subtotal (95% CI)</div><div class="t b" style="top:722.48px;font-size:7.35px;line-height:7.35px;right:363.1px;">130</div><div class="t b" style="top:722.48px;font-size:7.35px;line-height:7.35px;right:286.25px;">129</div><div class="t b" style="top:722.48px;font-size:7.35px;line-height:7.35px;right:255px;">87.4%</div><div class="t b" style="top:722.48px;font-size:7.35px;line-height:7.35px;right:184.6px;">-0.65 [-4.25, 2.94]</div><div class="t" style="top:733px;font-size:7.5px;line-height:7.5px;left:7.5px;letter-spacing:-0.05px;">Heterogeneity: Chi² = 0.14, df = 3 (P = 0.99); I² = 0%</div><div class="t" style="top:743px;font-size:7.5px;line-height:7.5px;left:7.5px;">Test for overall effect: Z = 0.36 (P = 0.72)</div><div class="t b" style="top:762.13px;font-size:7.35px;line-height:7.35px;left:7.5px;">Total (95% CI)</div><div class="t b" style="top:762.13px;font-size:7.35px;line-height:7.35px;right:363.1px;">200</div><div class="t b" style="top:762.13px;font-size:7.35px;line-height:7.35px;right:286.25px;">199</div><div class="t b" style="top:762.13px;font-size:7.35px;line-height:7.35px;right:255px;">100.0%</div><div class="t b" style="top:762.13px;font-size:7.35px;line-height:7.35px;right:184.6px;">-1.40 [-4.76, 1.96]</div><div class="t" style="top:772.35px;font-size:7.5px;line-height:7.5px;left:7.5px;letter-spacing:-0.05px;">Heterogeneity: Chi² = 1.57, df = 5 (P = 0.90); I² = 0%</div><div class="t" style="top:782.35px;font-size:7.5px;line-height:7.5px;left:7.5px;">Test for overall effect: Z = 0.82 (P = 0.41)</div><div class="t" style="top:791.75px;font-size:7.5px;line-height:7.5px;left:7.5px;">Test for subgroup differences: Chi² = 1.33, df = 1 (P = 0.25), I² = 24.7%</div><div class="t" style="top:777.55px;font-size:7.5px;line-height:7.5px;left:330.6px;width:100px;text-align:center;">-20</div><div class="t" style="top:777.55px;font-size:7.5px;line-height:7.5px;left:359.2px;width:100px;text-align:center;">-10</div><div class="t" style="top:777.55px;font-size:7.5px;line-height:7.5px;left:387.8px;width:100px;text-align:center;">0</div><div class="t" style="top:777.55px;font-size:7.5px;line-height:7.5px;left:416.4px;width:100px;text-align:center;">10</div><div class="t" style="top:777.55px;font-size:7.5px;line-height:7.5px;left:445px;width:100px;text-align:center;">20</div><div class="t" style="top:786.57px;font-size:7.3px;line-height:7.3px;right:86.6px;">Favours [experimental]</div><div class="t" style="top:786.57px;font-size:7.3px;line-height:7.3px;left:441.5px;">Favours [control]</div>
</div></body></html>
